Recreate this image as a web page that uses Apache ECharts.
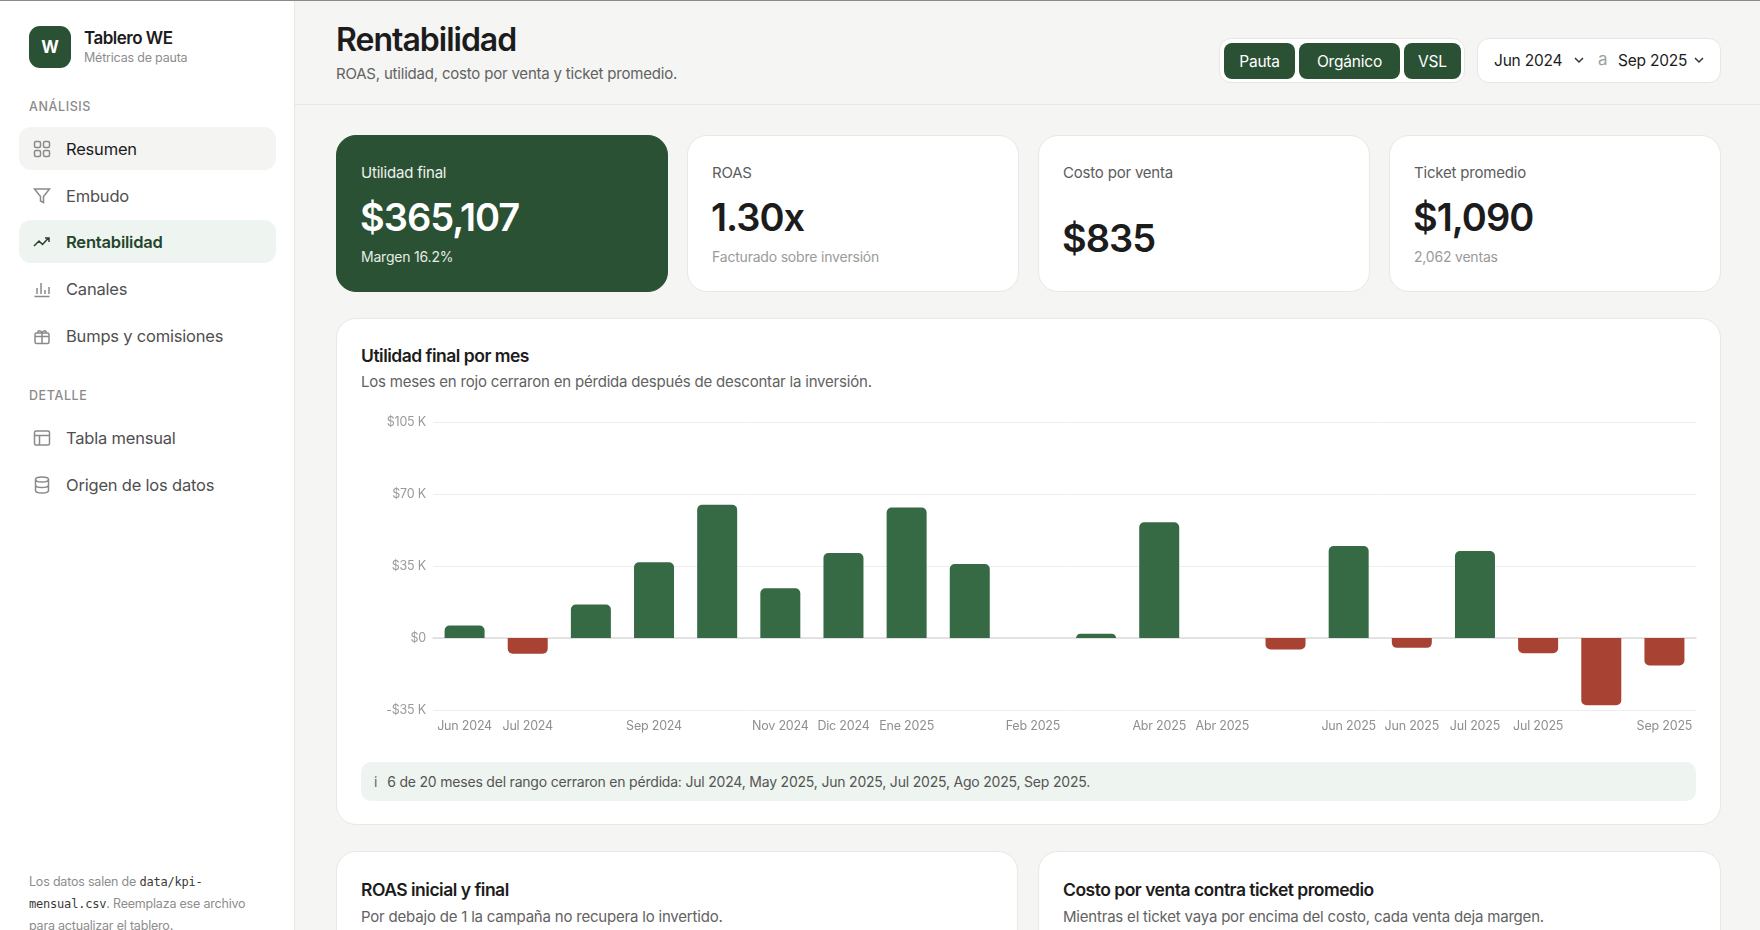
<!DOCTYPE html>
<html lang="es">
<head>
<meta charset="utf-8">
<title>Rentabilidad - Tablero WE</title>
<script src="https://cdn.jsdelivr.net/npm/echarts@6/dist/echarts.min.js"></script>
<style>
  * { box-sizing: border-box; margin: 0; padding: 0; }
  html, body { width: 1760px; height: 930px; overflow: hidden; }
  body { font-family: Inter, "Noto Sans", sans-serif; background: #f5f5f4; color: #1c1c1c; position: relative; letter-spacing: -0.2px; }
  .topline { position: absolute; left: 0; top: 0; width: 1760px; height: 1px; background: #8a8a8a; z-index: 5; }
  .side { position: absolute; left: 0; top: 0; width: 295px; height: 930px; background: #fff; border-right: 1px solid #e8e8e6; }
  .logo { position: absolute; left: 29px; top: 26px; width: 42px; height: 42px; border-radius: 11px; background: #2b5134; color: #fff; font-weight: 700; font-size: 17px; display: flex; align-items: center; justify-content: center; }
  .brand { position: absolute; left: 84px; top: 28px; font-size: 17px; font-weight: 600; letter-spacing: -0.5px; }
  .brand-sub { position: absolute; left: 84px; top: 50px; font-size: 12.5px; color: #8d8d8d; }
  .sec { position: absolute; left: 29px; font-size: 12.5px; color: #8a8a8a; letter-spacing: 0.6px; font-weight: 500; }
  .nav { position: absolute; left: 19px; width: 257px; height: 43px; border-radius: 12px; display: flex; align-items: center; padding-left: 13px; font-size: 16.5px; color: #4f4f4f; }
  .nav svg { width: 20px; height: 20px; margin-right: 14px; stroke: #8a8a8a; fill: none; stroke-width: 1.5; }
  .nav.cur { background: #f4f4f3; color: #1c1c1c; }
  .nav.on { background: #eef4ef; color: #24452c; font-weight: 600; }
  .nav.on svg { stroke: #24452c; }
  .foot { position: absolute; left: 29px; top: 871px; width: 238px; font-size: 12.5px; line-height: 22px; color: #8d8d8d; }
  .foot code { font-family: "DejaVu Sans Mono", monospace; font-size: 12px; color: #3a3a3a; font-weight: 500; }

  .hdr-line { position: absolute; left: 295px; top: 104px; width: 1465px; height: 1px; background: #e8e8e6; }
  h1 { position: absolute; left: 336px; top: 20px; font-size: 32px; font-weight: 600; letter-spacing: -1px; }
  .h1-sub { position: absolute; left: 336px; top: 64px; font-size: 15px; color: #626262; }
  .toggles { position: absolute; left: 1219px; top: 38px; width: 246px; height: 45px; background: #fff; border: 1px solid #e6e6e4; border-radius: 12px; }
  .tg { position: absolute; top: 4px; height: 36px; border-radius: 8px; background: #2b5134; color: #fff; font-size: 15.5px; display: flex; align-items: center; justify-content: center; }
  .range { position: absolute; left: 1477px; top: 38px; width: 244px; height: 45px; background: #fff; border: 1px solid #e6e6e4; border-radius: 12px; font-size: 15.5px; color: #1c1c1c; }
  .range span { position: absolute; top: 12px; }
  .chev { position: absolute; top: 17px; width: 10px; height: 8px; stroke: #333; stroke-width: 1.5; fill: none; }

  .kpi { position: absolute; top: 135px; width: 332px; height: 157px; background: #fff; border: 1px solid #e8e8e6; border-radius: 20px; }
  .kpi.dark { background: #2b5134; border-color: #2b5134; color: #fff; }
  .kpi .lb { position: absolute; left: 24px; top: 27px; font-size: 15px; color: #5c5c5c; }
  .kpi.dark .lb { color: #eef2ee; }
  .kpi .vl { position: absolute; left: 23px; top: 193px; font-size: 38px; font-weight: 600; letter-spacing: -1px; }
  .kpi .sb { position: absolute; left: 24px; top: 112px; font-size: 14px; color: #9a9a9a; }
  .kpi.dark .sb { color: #e5ece6; }

  .panel { position: absolute; background: #fff; border: 1px solid #e8e8e6; border-radius: 20px; }
  .ptitle { position: absolute; left: 24px; font-size: 17.5px; font-weight: 600; letter-spacing: -0.5px; }
  .psub { position: absolute; left: 24px; font-size: 15px; color: #626262; }
  #chart { position: absolute; left: 0; top: 82px; width: 1385px; height: 345px; }
  .note { position: absolute; left: 24px; top: 443px; width: 1335px; height: 39px; background: #eef4ef; border-radius: 10px; font-size: 14px; color: #555; display: flex; align-items: center; padding-left: 13px; }
  .note b { font-weight: 400; margin-right: 10px; color: #666; }
</style>
</head>
<body>
<div class="topline"></div>

<div class="side">
  <div class="logo">W</div>
  <div class="brand">Tablero WE</div>
  <div class="brand-sub">Métricas de pauta</div>

  <div class="sec" style="top:99px">ANÁLISIS</div>
  <div class="nav cur" style="top:127px"><svg viewBox="0 0 20 20"><rect x="2.5" y="2.5" width="6" height="6" rx="1.5"/><rect x="11.5" y="2.5" width="6" height="6" rx="1.5"/><rect x="2.5" y="11.5" width="6" height="6" rx="1.5"/><rect x="11.5" y="11.5" width="6" height="6" rx="1.5"/></svg>Resumen</div>
  <div class="nav" style="top:174px"><svg viewBox="0 0 20 20"><path d="M2.5 3h15l-6 7.5v6l-3-1.5v-4.5z"/></svg>Embudo</div>
  <div class="nav on" style="top:220px"><svg viewBox="0 0 20 20"><path d="M2 14l5-5 3.5 3.5 6-6.5M13 6h4v4"/></svg>Rentabilidad</div>
  <div class="nav" style="top:267px"><svg viewBox="0 0 20 20"><path d="M2.5 17.5h15M5 15V9M9 15V4M13 15v-4M17 15V8"/></svg>Canales</div>
  <div class="nav" style="top:314px"><svg viewBox="0 0 20 20"><rect x="3" y="7" width="14" height="10.5" rx="1.5"/><path d="M3 10.5h14M10 7v10.5M10 7c-1-3-5-3-4 0M10 7c1-3 5-3 4 0"/></svg>Bumps y comisiones</div>

  <div class="sec" style="top:388px">DETALLE</div>
  <div class="nav" style="top:416px"><svg viewBox="0 0 20 20"><rect x="2.5" y="3" width="15" height="14" rx="1.5"/><path d="M2.5 7.5h15M7.5 7.5V17"/></svg>Tabla mensual</div>
  <div class="nav" style="top:463px"><svg viewBox="0 0 20 20"><ellipse cx="10" cy="4.5" rx="6.5" ry="2.5"/><path d="M3.5 4.5v11c0 1.4 2.9 2.5 6.5 2.5s6.5-1.1 6.5-2.5v-11M3.5 10c0 1.4 2.9 2.5 6.5 2.5s6.5-1.1 6.5-2.5"/></svg>Origen de los datos</div>

  <div class="foot">Los datos salen de <code>data/kpi-mensual.csv</code>. Reemplaza ese archivo para actualizar el tablero.</div>
</div>

<h1>Rentabilidad</h1>
<div class="h1-sub">ROAS, utilidad, costo por venta y ticket promedio.</div>
<div class="hdr-line"></div>

<div class="toggles">
  <div class="tg" style="left:4px;width:71px">Pauta</div>
  <div class="tg" style="left:79px;width:101px">Orgánico</div>
  <div class="tg" style="left:184px;width:57px">VSL</div>
</div>
<div class="range">
  <span style="left:16px">Jun 2024</span>
  <svg class="chev" style="left:96px" viewBox="0 0 10 8"><path d="M1 2l4 4 4-4"/></svg>
  <span style="left:120px;color:#a0a0a0;font-size:17px;top:10px">a</span>
  <span style="left:140px">Sep 2025</span>
  <svg class="chev" style="left:216px" viewBox="0 0 10 8"><path d="M1 2l4 4 4-4"/></svg>
</div>

<div class="kpi dark" style="left:336px">
  <div class="lb">Utilidad final</div>
  <div class="vl" style="top:58px">$365,107</div>
  <div class="sb">Margen 16.2%</div>
</div>
<div class="kpi" style="left:687px">
  <div class="lb">ROAS</div>
  <div class="vl" style="top:58px">1.30x</div>
  <div class="sb">Facturado sobre inversión</div>
</div>
<div class="kpi" style="left:1038px">
  <div class="lb">Costo por venta</div>
  <div class="vl" style="top:79px">$835</div>
</div>
<div class="kpi" style="left:1389px">
  <div class="lb">Ticket promedio</div>
  <div class="vl" style="top:58px">$1,090</div>
  <div class="sb">2,062 ventas</div>
</div>

<div class="panel" style="left:336px;top:318px;width:1385px;height:507px">
  <div class="ptitle" style="top:26px">Utilidad final por mes</div>
  <div class="psub" style="top:53px">Los meses en rojo cerraron en pérdida después de descontar la inversión.</div>
  <div id="chart"></div>
  <div class="note"><b>i</b>6 de 20 meses del rango cerraron en pérdida: Jul 2024, May 2025, Jun 2025, Jul 2025, Ago 2025, Sep 2025.</div>
</div>

<div class="panel" style="left:336px;top:851px;width:682px;height:120px">
  <div class="ptitle" style="top:27px">ROAS inicial y final</div>
  <div class="psub" style="top:55px">Por debajo de 1 la campaña no recupera lo invertido.</div>
</div>
<div class="panel" style="left:1038px;top:851px;width:683px;height:120px">
  <div class="ptitle" style="top:27px">Costo por venta contra ticket promedio</div>
  <div class="psub" style="top:55px">Mientras el ticket vaya por encima del costo, cada venta deja margen.</div>
</div>

<script>
// meses del rango (tal como salen del csv)
var months = ['Jun 2024','Jul 2024','Ago 2024','Sep 2024','Oct 2024','Nov 2024','Dic 2024','Ene 2025','Ene 2025',
  'Feb 2025','Mar 2025','Abr 2025','Abr 2025','May 2025','Jun 2025','Jun 2025','Jul 2025','Jul 2025','Ago 2025','Sep 2025'];
// etiquetas visibles en el eje x
var tickLabels = ['Jun 2024','Jul 2024','','Sep 2024','','Nov 2024','Dic 2024','Ene 2025','',
  'Feb 2025','','Abr 2025','Abr 2025','','Jun 2025','Jun 2025','Jul 2025','Jul 2025','','Sep 2025'];
// utilidad final por mes
var utilidad = [6100, -7600, 16300, 36800, 64800, 24200, 41300, 63400, 36000,
  0, 2100, 56300, 0, -5600, 44700, -4800, 42300, -7400, -32700, -13400];
var yTicks = { min: -35000, max: 105000, step: 35000 };

var GREEN = '#366a44', RED = '#a84333';

var chart = echarts.init(document.getElementById('chart'), null, { renderer: 'canvas' });

function fmtK(v) {
  if (v === 0) return '$0';
  return (v < 0 ? '-' : '') + '$' + Math.abs(v / 1000) + ' K';
}

var option = {
  animation: false,
  grid: { left: 96, right: 26, top: 21, bottom: 36 },
  xAxis: {
    type: 'category',
    data: months,
    axisLine: { onZero: true, lineStyle: { color: '#dcdcdc', width: 1.5 } },
    axisTick: { show: false },
    axisLabel: {
      interval: 0,
      color: '#8f8f8f',
      fontSize: 12.5,
      fontFamily: 'Inter',
      margin: 10,
      formatter: function (v, i) { return tickLabels[i]; }
    }
  },
  yAxis: {
    type: 'value',
    min: yTicks.min,
    max: yTicks.max,
    interval: yTicks.step,
    axisLine: { show: false },
    axisTick: { show: false },
    splitLine: { lineStyle: { color: '#ededec', width: 1 } },
    axisLabel: { color: '#9a9a9a', fontSize: 12.5, fontFamily: 'Inter', margin: 7, formatter: fmtK }
  },
  series: [{
    type: 'bar',
    barWidth: 40,
    data: utilidad.map(function (v) {
      return {
        value: v,
        itemStyle: {
          color: v < 0 ? RED : GREEN,
          borderRadius: v < 0 ? [0, 0, 5, 5] : [5, 5, 0, 0]
        }
      };
    })
  }]
};

chart.setOption(option);
window.addEventListener('resize', function () { chart.resize(); });
</script>
</body>
</html>
